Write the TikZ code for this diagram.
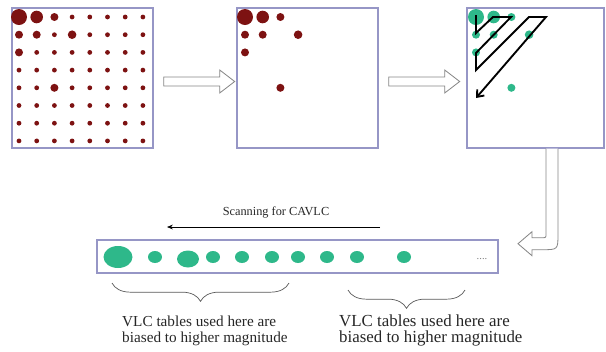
\documentclass[tikz,border=0pt]{standalone}
\usepackage{fontspec}
\setmainfont{Liberation Serif}
\usetikzlibrary{positioning,calc,arrows.meta,decorations.pathreplacing}
\definecolor{frame}{RGB}{150,150,198}
\definecolor{coef}{RGB}{125,18,18}
\definecolor{nz}{RGB}{46,184,138}
\definecolor{outl}{RGB}{135,135,135}

\begin{document}
\begin{tikzpicture}[x=0.03cm, y=-0.03cm,
  panel/.style={draw=frame, line width=1.2pt, minimum width=4.23cm, minimum height=4.2cm, inner sep=0pt},
  hollow/.style={draw=outl, fill=white, line width=0.7pt, line join=miter},
  brc/.style={decorate, decoration={brace, mirror, amplitude=0.55cm}, draw=black!65, line width=0.6pt},
  lbl/.style={align=left, inner sep=0pt, text=black!85}]
 \useasboundingbox (0,0) rectangle (606,351);
 % the three blocks of coefficients
 \node[panel] (blk1) at (82.5,78) {};
 \node[panel] (blk2) at (307.5,78) {};
 \node[panel, minimum width=4.11cm] (blk3) at (535.5,78) {};
 \foreach \i in {0,...,7}
  \foreach \j in {0,...,7}
   \fill[coef] (19+17.7*\i, 17+17.7*\j) circle (2.4);
 \foreach \dx/\c in {0/coef,226/coef,457/nz}
  \foreach \i/\j/\r in {0/0/8,1/0/6.3,2/0/4,0/1/4,1/1/4,3/1/4.3,0/2/4,2/4/4}
   \fill[\c] (\dx+19+17.7*\i, 17+17.7*\j) circle (\r);
 % zigzag scan
 \draw[line width=1.6pt, line join=miter, -{Straight Barb[length=5pt,width=8pt]}]
  (476,15) -- (476,33) -- (493,17) -- (511,17) -- (476,53) -- (476,70)
  -- (529,17) -- (546,17) -- (476,98);
 % hollow arrows
 \foreach \a in {blk1,blk2}
  \draw[hollow] ($(\a.east)+(10,-1)$) -- ++(56,0) -- ++(0,-7) -- ++(15,11.5)
   -- ++(-15,11.5) -- ++(0,-7) -- ++(-56,0) -- cycle;
 \begin{scope}[shift={(blk3.south)}]
  \draw[hollow] (10.5,0) -- (10.5,85) .. controls (10.5,89) .. (6.5,89) -- (-3.5,89)
   -- (-3.5,83) -- (-17.5,95) -- (-3.5,107) -- (-3.5,101) -- (6.5,101)
   .. controls (22.5,101) .. (22.5,85) -- (22.5,0);
 \end{scope}
 % scanned string
 \node[panel, minimum width=12.03cm, minimum height=0.99cm] (strip) at (297.5,256.5) {};
 \foreach \x/\y/\rx/\ry in {118/257/14.5/11,155/257/7/6,188/259/11/8.5,213/257/7/6,
   242/257/7/6,272/257/7/6,298/257/7/6,327/257/7/6,357/257/7/6,404/257/7/6}
  \fill[nz] (\x,\y) ellipse ({\rx} and {\ry});
 \node[text=gray, font=\small] (more) at (482,259) {....};
 \node[lbl, font=\fontsize{10.5}{12}\selectfont] (scan) at (276,212) {Scanning for CAVLC};
 \coordinate (sR) at (380,227);
 \coordinate (sL) at (167,227);
 \draw[-{Stealth[length=5pt,width=4pt]}, line width=0.6pt] (sR) -- (sL);
 % braces and notes
 \coordinate (b1L) at (112,283);
 \coordinate (b1R) at (289,283);
 \coordinate (b2L) at (348,290);
 \coordinate (b2R) at (465,290);
 \draw[brc] (b1L) -- (b1R);
 \draw[brc] (b2L) -- (b2R);
 \node[lbl, font=\fontsize{13}{13.6}\selectfont, anchor=base west] (txt1) at (122,342)
  {VLC tables used here are\\biased to higher magnitude};
 \node[lbl, font=\fontsize{14.4}{13}\selectfont, anchor=base west] (txt2) at (339,342)
  {VLC tables used here are\\biased to higher magnitude};
\end{tikzpicture}
\end{document}
